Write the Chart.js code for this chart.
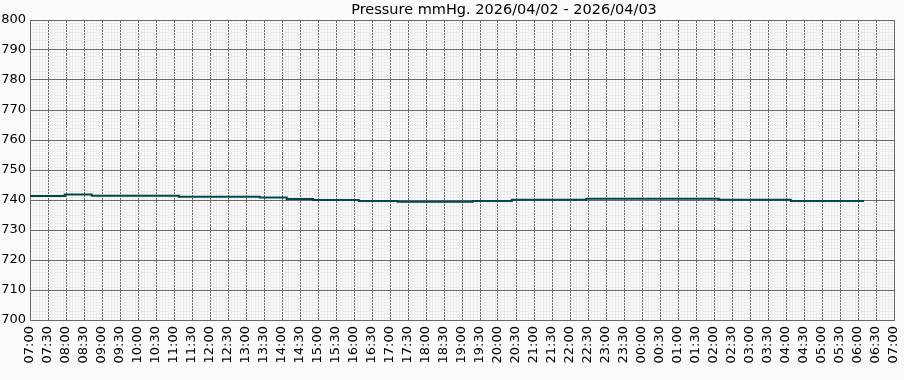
<!DOCTYPE html>
<html>
<head>
<meta charset="utf-8">
<script src="https://cdn.jsdelivr.net/npm/chart.js@4"></script>
<style>
  html, body { margin: 0; padding: 0; background: #fafafa; }
  #wrap { position: relative; width: 904px; height: 380px; }
  #title {
    position: absolute; left: 304px; top: 0; width: 400px;
    text-align: center; font: 14.5px "DejaVu Sans"; line-height: 18px; color: #000;
  }
</style>
</head>
<body>
<div id="wrap">
  <canvas id="pressureChart" width="904" height="380"></canvas>
  <div id="title">Pressure mmHg. 2026/04/02 - 2026/04/03</div>
</div>
<script>
// ---------------- DATA ----------------
// step changes (value holds until next time)
const stepTimes = ["07:00", "07:58", "08:43", "11:08", "13:23", "14:08", "14:52", "16:08",
                   "17:13", "19:18", "20:23", "22:27", "02:08", "04:08", "06:10"];
const pressure  = [741.3, 741.8, 741.4, 741.1, 740.8, 740.3, 740.0, 739.7,
                   739.4, 739.7, 740.1, 740.4, 740.1, 739.7, 739.7];

const startHour = 7;         // axis starts at 07:00
const spanMinutes = 24 * 60; // through 07:00 next day
const yMin = 700, yMax = 800;

// minutes since 07:00 (wraps past midnight)
function toMinutes(t) {
    const [h, m] = t.split(":").map(Number);
    return ((h - startHour + 24) % 24) * 60 + m;
}
function fmtTime(v) {
    const h = (startHour + Math.floor(v / 60)) % 24;
    const m = v % 60;
    return String(h).padStart(2, "0") + ":" + String(m).padStart(2, "0");
}

const points = stepTimes.map((t, i) => ({ x: toMinutes(t), y: pressure[i] }));

const MAJOR = "#6a6a6a";
const MINOR = "#ececec";

Chart.defaults.font.family = "DejaVu Sans";
Chart.defaults.font.size = 13;
Chart.defaults.color = "#000";

new Chart(document.getElementById("pressureChart"), {
    type: "line",
    data: {
        datasets: [{
            data: points,
            stepped: "before",   // hold each value until the next reading
            borderColor: "#004848",
            borderWidth: 2,
            pointRadius: 0,
            fill: false
        }]
    },
    options: {
        responsive: false,
        animation: false,
        layout: { padding: { top: 20, right: 10, left: 0, bottom: 0 } },
        plugins: { legend: { display: false }, tooltip: { enabled: false } },
        scales: {
            x: {
                type: "linear",
                min: 0,
                max: spanMinutes,
                afterFit: s => {
                    s.height = 60;
                    s.paddingLeft = 0;
                    s.paddingRight = 0;
                },
                border: { color: MAJOR, width: 1 },
                grid: {
                    drawTicks: false,
                    color: c => (c.tick && c.tick.value % 30 === 0) ? MAJOR : MINOR,
                    lineWidth: 1
                },
                ticks: {
                    stepSize: 5,
                    maxTicksLimit: 1000,
                    autoSkip: false,
                    minRotation: 90,
                    maxRotation: 90,
                    padding: 6,
                    callback: v => v % 30 === 0 ? fmtTime(v) : ""
                }
            },
            y: {
                min: yMin,
                max: yMax,
                afterFit: s => {
                    s.width = 30;
                    s.paddingTop = 0;
                    s.paddingBottom = 0;
                },
                border: { color: MAJOR, width: 1 },
                grid: {
                    drawTicks: false,
                    color: c => (c.tick && c.tick.value % 10 === 0) ? MAJOR : MINOR,
                    lineWidth: 1
                },
                ticks: {
                    stepSize: 1,
                    maxTicksLimit: 1000,
                    autoSkip: false,
                    padding: 4,
                    callback: v => v % 10 === 0 ? String(v) : ""
                }
            }
        }
    }
});
</script>
</body>
</html>
